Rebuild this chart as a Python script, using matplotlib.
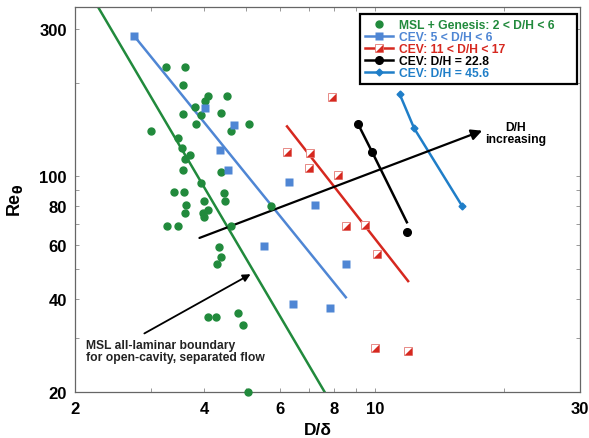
import matplotlib
matplotlib.use("Agg")
import matplotlib.pyplot as plt
from matplotlib.lines import Line2D
from matplotlib.ticker import FixedLocator, NullFormatter, FixedFormatter

plt.rcParams['font.family'] = ['Liberation Sans', 'DejaVu Sans']
plt.rcParams['font.weight'] = 'bold'

# MSL + Genesis points (D/delta, Re_theta)
msl_x = [3.25, 3.60, 3.56, 4.07, 4.51, 4.01, 3.80, 3.56, 3.93, 4.38, 3.82, 5.08, 4.62, 3.00,
         3.47, 3.54, 3.70, 3.61, 3.56, 4.37, 3.92, 3.40, 3.59, 4.45, 4.47, 3.63, 3.98, 5.73,
         4.08, 3.60, 3.97, 4.00, 3.28, 3.47, 4.62, 4.32, 4.37, 4.27, 4.08, 4.26, 4.79, 4.91, 5.04]
msl_y = [226, 226, 197, 182, 182, 175, 168, 159, 158, 160, 148, 148, 140, 140,
         133, 123, 117, 114, 105, 103, 95, 89, 89, 88, 83, 81, 83, 80,
         78, 76, 76, 74, 69, 69, 69, 59, 55, 52, 35, 35, 36, 33, 20]
# all-laminar boundary line
bound_x = [2.26, 7.63]
bound_y = [353, 20]

# CEV 5 < D/H < 6
cev6_x = [2.74, 4.02, 4.68, 4.35, 4.55, 6.30, 5.52, 7.23, 8.54, 6.42, 7.84]
cev6_y = [285, 166, 147, 122, 105, 96, 59.5, 81, 52, 38.5, 37.6]
cev6_fit_x = [2.74, 8.54]
cev6_fit_y = [285, 40.6]

# CEV 11 < D/H < 17
cev17_x = [7.91, 6.23, 7.04, 7.01, 8.20, 8.54, 9.45, 10.12, 9.98, 11.93]
cev17_y = [181, 120, 119, 106, 101, 69, 69.6, 56, 27.9, 27.3]
cev17_fit_x = [6.23, 11.93]
cev17_fit_y = [145, 45.8]

# CEV D/H = 22.8
cev23_x = [9.11, 9.83, 11.85]
cev23_y = [148, 120, 66]
cev23_fit_x = [9.11, 9.83, 11.85]
cev23_fit_y = [148, 120, 71]

# CEV D/H = 45.6
cev46_x = [11.41, 12.32, 15.95]
cev46_y = [184, 143, 80]

green = '#218a3c'
blue = '#4f86d4'
red = '#d6281f'
blue2 = '#1f7ec8'

fig = plt.figure(figsize=(5.89, 4.39), dpi=100)
ax = fig.add_axes([0.1278, 0.1041, 0.8569, 0.8777])
ax.set_xscale('log')
ax.set_yscale('log')
ax.set_xlim(2, 30)
ax.set_ylim(20, 353)

ax.plot(bound_x, bound_y, color=green, lw=1.8, zorder=2)
ax.plot(msl_x, msl_y, ls='none', marker='o', ms=5, color=green, clip_on=False, zorder=4)

ax.plot(cev6_fit_x, cev6_fit_y, color=blue, lw=1.8, zorder=2)
ax.plot(cev6_x, cev6_y, ls='none', marker='s', ms=5.5, color=blue, mec='none', zorder=4)

tri = [(-1, -1), (1, -1), (1, 1), (-1, -1)]
ax.plot(cev17_fit_x, cev17_fit_y, color=red, lw=1.8, zorder=2)
ax.plot(cev17_x, cev17_y, ls='none', marker='s', ms=5.5, mfc='white', mec='#e88a86', mew=0.7, zorder=4)
ax.plot(cev17_x, cev17_y, ls='none', marker=tri, ms=5.5, color=red, mec='none', zorder=5)

ax.plot(cev23_fit_x, cev23_fit_y, color='black', lw=1.8, zorder=2)
ax.plot(cev23_x, cev23_y, ls='none', marker='o', ms=5.5, color='black', zorder=4)

ax.plot(cev46_x, cev46_y, color=blue2, lw=1.8, marker='D', ms=3.5, zorder=3)

# arrows and notes
ax.annotate('', xy=(18.0, 141.5), xytext=(3.84, 62.7),
            arrowprops=dict(arrowstyle='-|>', color='black', lw=1.6, mutation_scale=16))
ax.text(21.2, 137.6, 'D/H\nincreasing', ha='center', va='center', fontsize=8.7,
        fontweight='bold', linespacing=1.0)
ax.annotate('', xy=(5.19, 48.7), xytext=(2.86, 30.7),
            arrowprops=dict(arrowstyle='-|>', color='black', lw=1.3, mutation_scale=11))
ax.text(2.12, 27.2, 'MSL all-laminar boundary\nfor open-cavity, separated flow', ha='left',
        va='center', fontsize=8.7, fontweight='bold', linespacing=1.0, color='#222222')

# ticks
ax.xaxis.set_major_locator(FixedLocator([2, 4, 6, 8, 10, 30]))
ax.xaxis.set_major_formatter(FixedFormatter(['2', '4', '6', '8', '10', '30']))
ax.xaxis.set_minor_locator(FixedLocator([3, 5, 7, 9, 20]))
ax.xaxis.set_minor_formatter(NullFormatter())
ax.yaxis.set_major_locator(FixedLocator([20, 40, 60, 80, 100, 300]))
ax.yaxis.set_major_formatter(FixedFormatter(['20', '40', '60', '80', '100', '300']))
ax.yaxis.set_minor_locator(FixedLocator([30, 50, 70, 90, 200]))
ax.yaxis.set_minor_formatter(NullFormatter())
ax.tick_params(which='both', direction='in', top=True, right=True, length=3,
               width=0.6, color='#888888', labelsize=12, pad=6)
for s in ax.spines.values():
    s.set_color('#666666')
    s.set_linewidth(0.9)

ax.set_xlabel('D/δ', fontsize=12.5, fontweight='bold', va='center')
ax.xaxis.set_label_coords(0.48, -0.097)
ax.set_ylabel(r'Re$_\mathrm{\theta}$', fontsize=13, fontweight='bold', va='center')
ax.yaxis.set_label_coords(-0.119, 0.5)

handles = [
    Line2D([], [], ls='none', marker='o', ms=5, color=green),
    Line2D([], [], color=blue, lw=1.8, marker='s', ms=5.5, mec='none'),
    (Line2D([], [], color=red, lw=1.8, marker='s', ms=5.5, mfc='white', mec='#e88a86', mew=0.7),
     Line2D([], [], ls='none', marker=tri, ms=5.5, color=red, mec='none')),
    Line2D([], [], color='black', lw=1.8, marker='o', ms=5.5),
    Line2D([], [], color=blue2, lw=1.8, marker='D', ms=3.5),
]
labels = ['MSL + Genesis: 2 < D/H < 6', 'CEV: 5 < D/H < 6', 'CEV: 11 < D/H < 17',
          'CEV: D/H = 22.8', 'CEV: D/H = 45.6']
leg = ax.legend(handles, labels, loc='upper left', bbox_to_anchor=(0.564, 0.7975, 0.43, 0.1845),
                mode='expand', fontsize=8.7, labelspacing=0.0, handlelength=2.3,
                handletextpad=0.5, borderpad=0.4, borderaxespad=0, fancybox=False,
                framealpha=1, edgecolor='black',
                labelcolor=[green, blue, red, 'black', blue2])
leg.get_frame().set_linewidth(1.6)
for t in leg.get_texts():
    t.set_fontweight('bold')

fig.savefig('out.png', dpi=100)
